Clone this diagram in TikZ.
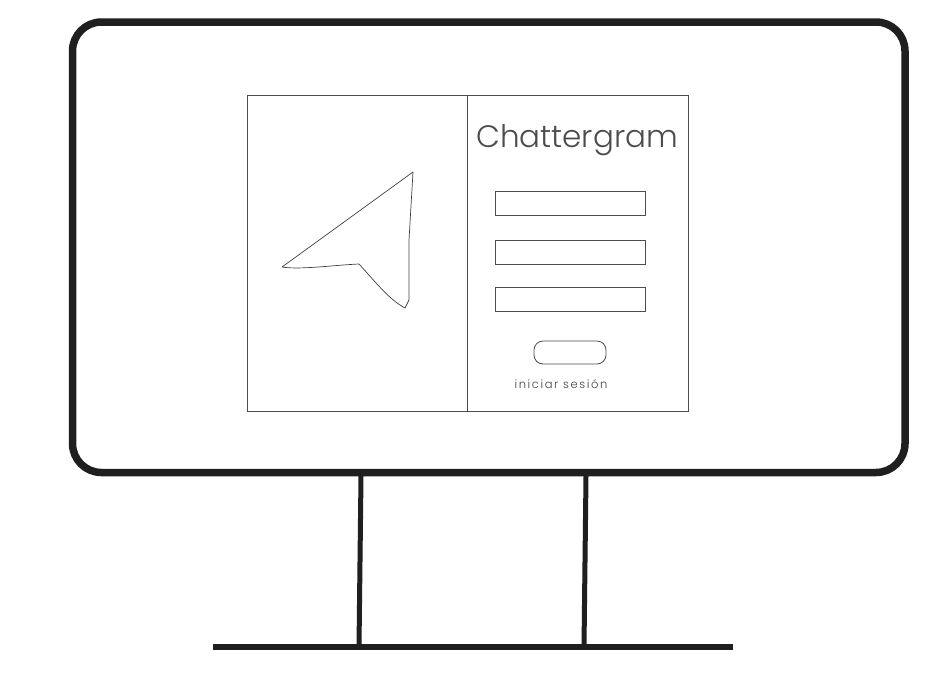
\documentclass[tikz,border=0pt]{standalone}
\usepackage{fontspec}
\usepackage{tikz}
\usetikzlibrary{
  positioning,
  calc
}
\newfontfamily\sketchfont{Poppins Light}

\begin{document}
\begin{tikzpicture}[
  x=1pt, y=-1pt,
  framebar/.style={draw=black!88, line width=7.5pt, line join=round},
  standbar/.style={draw=black!88, line width=5pt},
  thinline/.style={draw=black!70, line width=0.8pt},
  sketchline/.style={draw=black!75, line width=0.7pt, line join=round}
]
\useasboundingbox (0,0) rectangle (931,681);

% monitor
\draw[framebar, rounded corners=29pt] (72.5,22) rectangle (905,472.5);

% stand
\draw[standbar] (361,476) -- (359,647);
\draw[standbar] (586,476) -- (584,647);
\draw[draw=black!88, line width=5.5pt] (213,647) -- (733,647);

% login window
\draw[thinline] (247,95) rectangle (467,411);
\draw[thinline] (467,95) rectangle (688,411);

% arrow logo
\draw[sketchline] (413,172) -- (409,240) -- (409,300) -- (405,308)
  .. controls (390,300) and (378,285) .. (359,264)
  .. controls (335,265) and (300,270) .. (282,267) -- cycle;

% title
\node[font=\sketchfont\fontsize{31}{31}\selectfont, text=black!70, inner sep=0pt] (title) at (577,140) {Chattergram};

% fields
\foreach \y in {191,240,287}{
  \draw[thinline] (495,\y) rectangle (645,\y+24);
}

% button
\draw[thinline, rounded corners=9pt] (534,341) rectangle (606,364);
\node[font=\sketchfont\fontsize{11.5}{11.5}\selectfont\addfontfeature{LetterSpace=14}, text=black!75, inner sep=0pt] (login) at (561,384) {iniciar sesión};

\end{tikzpicture}
\end{document}
